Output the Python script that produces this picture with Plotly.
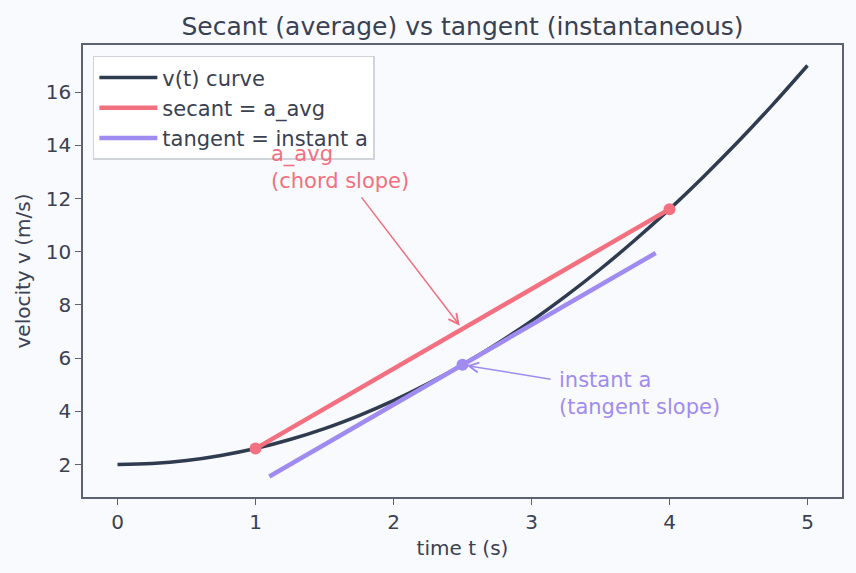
import plotly.graph_objects as go

# v(t) curve samples
t_curve = [0, 0.25, 0.5, 0.75, 1, 1.25, 1.5, 1.75, 2, 2.25, 2.5, 2.75, 3,
           3.25, 3.5, 3.75, 4, 4.25, 4.5, 4.75, 5]
v_curve = [2.0, 2.04, 2.15, 2.34, 2.6, 2.94, 3.35, 3.84, 4.4, 5.04, 5.75,
           6.54, 7.4, 8.34, 9.35, 10.44, 11.6, 12.84, 14.15, 15.54, 17.0]

# secant endpoints
t_secant = [1, 4]
v_secant = [2.6, 11.6]

# tangent segment and touch point
t_tangent = [1.1, 3.9]
v_tangent = [1.55, 9.95]
t_touch = [2.5]
v_touch = [5.75]

C_CURVE = "#2f3b4f"
C_SEC = "#f2707f"
C_TAN = "#a08cf0"
TXT = "#3a4152"
SPINE = "#5c6272"
BG = "#f9fafd"
FONT = "DejaVu Sans"

fig = go.Figure()
fig.add_trace(go.Scatter(x=t_curve, y=v_curve, mode="lines", name="v(t) curve",
                         line=dict(color=C_CURVE, width=3.5, shape="spline")))
fig.add_trace(go.Scatter(x=t_secant, y=v_secant, mode="lines", name="secant = a_avg",
                         line=dict(color=C_SEC, width=4.5)))
fig.add_trace(go.Scatter(x=t_tangent, y=v_tangent, mode="lines", name="tangent = instant a",
                         line=dict(color=C_TAN, width=4.5)))
fig.add_trace(go.Scatter(x=t_secant, y=v_secant, mode="markers", showlegend=False,
                         marker=dict(color=C_SEC, size=12)))
fig.add_trace(go.Scatter(x=t_touch, y=v_touch, mode="markers", showlegend=False,
                         marker=dict(color=C_TAN, size=12)))

# annotations
fig.add_annotation(x=1.1, y=13.15, xref="x", yref="y", text="a_avg<br>(chord slope)",
                   showarrow=False, xanchor="left", yanchor="middle", align="left",
                   font=dict(family=FONT, size=21, color=C_SEC))
fig.add_annotation(x=2.48, y=7.22, ax=1.76, ay=12.1, xref="x", yref="y",
                   axref="x", ayref="y", text="", showarrow=True,
                   arrowhead=5, arrowsize=1.3, arrowwidth=1.5, arrowcolor=C_SEC)
fig.add_annotation(x=3.185, y=4.66, xref="x", yref="y", text="instant a<br>(tangent slope)",
                   showarrow=False, xanchor="left", yanchor="middle", align="left",
                   font=dict(family=FONT, size=21, color=C_TAN))
fig.add_annotation(x=2.53, y=5.72, ax=3.15, ay=5.2, xref="x", yref="y",
                   axref="x", ayref="y", text="", showarrow=True,
                   arrowhead=5, arrowsize=1.3, arrowwidth=1.5, arrowcolor=C_TAN)

axis_common = dict(showline=True, mirror=True, linecolor=SPINE, linewidth=1.6,
                   ticks="outside", ticklen=6, tickwidth=1.3, tickcolor=SPINE,
                   showgrid=False, zeroline=False,
                   tickfont=dict(family=FONT, size=20, color=TXT))

fig.update_xaxes(range=[-0.25, 5.25], tickvals=[0, 1, 2, 3, 4, 5],
                 title=dict(text="time t (s)", font=dict(family=FONT, size=20, color=TXT),
                            standoff=8),
                 **axis_common)
fig.update_yaxes(range=[0.78, 17.77], tickvals=[2, 4, 6, 8, 10, 12, 14, 16],
                 title=dict(text="velocity v (m/s)", font=dict(family=FONT, size=20, color=TXT),
                            standoff=10),
                 **axis_common)

fig.update_layout(
    width=856, height=573,
    margin=dict(l=83, r=14, t=45, b=76),
    paper_bgcolor=BG, plot_bgcolor=BG,
    title=dict(text="Secant (average) vs tangent (instantaneous)", x=0.5, xanchor="center",
               xref="paper", y=0.955, yanchor="middle",
               font=dict(family=FONT, size=25, color=TXT)),
    font=dict(family=FONT, color=TXT),
    legend=dict(x=0.013, y=0.976, xanchor="left", yanchor="top",
                bgcolor="rgba(255,255,255,0.92)", bordercolor="#d0d3da", borderwidth=1.5,
                font=dict(family=FONT, size=21, color=TXT), itemwidth=58,
                tracegroupgap=2),
    showlegend=True,
)

fig.write_html("out.html")
